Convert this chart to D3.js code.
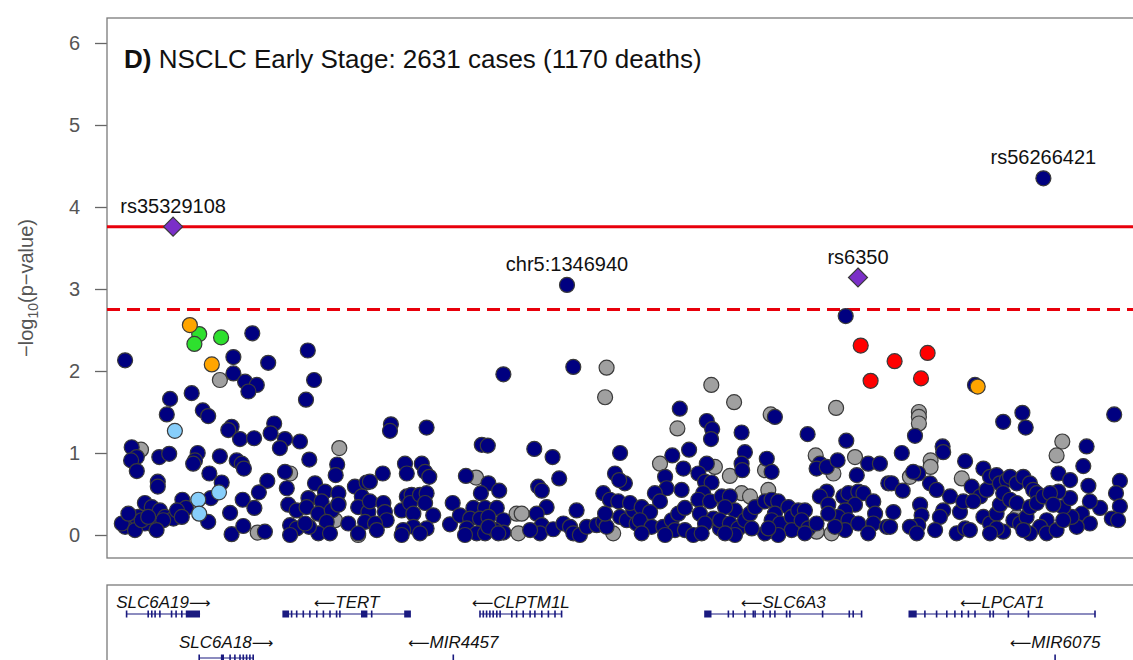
<!DOCTYPE html>
<html>
<head>
<meta charset="utf-8">
<script src="https://cdn.jsdelivr.net/npm/d3@7"></script>
<style>
  html, body { margin: 0; padding: 0; background: #ffffff; }
  svg { display: block; font-family: "Liberation Sans", Arial, Helvetica, sans-serif; }
</style>
</head>
<body>
<svg id="chart" width="1133" height="660"></svg>
<script>
// ---------------- DATA (position in kb on chr5, -log10 p) ----------------
const title = "NSCLC Early Stage: 2631 cases (1170 deaths)";
const panelTag = "D)";
const yTicks = [0, 1, 2, 3, 4, 5, 6];
const thresholdSolid = 3.76;
const thresholdDashed = 2.75;

const graySNPs = [
  [1207.0,1.04],[1233.3,1.89],[1273.1,1.06],[1245.9,0.03],[1256.7,0.75],[1279.4,0.00],[1272.8,0.38],[1271.7,0.18],
  [1362.2,2.04],[1361.7,1.68],[1318.7,0.70],[1332.2,0.26],[1333.9,0.26],[1332.8,0.02],[1364.4,0.02],
  [1397.1,1.83],[1404.7,1.62],[1385.8,1.30],[1416.9,1.47],[1438.7,1.55],[1380.0,0.87],[1398.3,0.83],[1403.3,0.72],
  [1415.0,0.79],[1431.9,0.97],[1437.8,0.75],[1445.0,0.95],[1407.2,0.51],[1410.0,0.47],[1416.1,0.55],[1437.2,0.02],[1432.2,0.04],
  [1466.3,1.50],[1466.3,1.44],[1466.3,1.36],[1470.2,0.91],[1470.2,0.83],[1463.3,0.71],[1480.6,0.69],
  [1514.1,1.14],[1512.2,0.97],[1498.9,0.22],[1501.1,0.18]
];

const navySNPs = [
  [1201.7,2.13],[1244.1,2.46],[1237.8,2.17],[1249.4,2.10],[1237.8,1.97],[1241.7,1.87],[1245.6,1.83],[1242.8,1.75],
  [1262.6,2.25],[1264.7,1.89],[1262.0,1.65],[1216.7,1.66],[1223.9,1.73],[1215.6,1.47],[1227.6,1.52],[1229.4,1.45],
  [1237.2,1.32],[1236.1,1.28],[1240.0,1.17],[1244.7,1.18],[1251.4,1.36],[1250.2,1.24],[1255.0,1.17],[1253.3,1.06],
  [1260.0,1.14],[1263.1,0.92],[1272.4,0.86],[1271.9,0.73],[1203.9,1.07],[1205.6,0.95],[1203.7,0.91],[1205.6,0.78],
  [1213.1,0.95],[1216.4,0.99],[1212.6,0.65],[1212.6,0.59],[1225.9,1.00],[1225.0,0.91],[1224.4,0.87],[1233.3,0.96],
  [1238.9,0.91],[1240.6,0.87],[1241.3,0.81],[1229.8,0.75],[1233.9,0.64],[1230.3,0.45],[1229.4,0.16],[1220.8,0.43],
  [1222.0,0.33],[1249.1,0.66],[1246.3,0.52],[1240.9,0.43],[1244.8,0.33],[1236.7,0.27],[1237.2,0.01],[1241.1,0.11],
  [1248.3,0.04],[1255.0,0.77],[1255.6,0.57],[1256.1,0.37],[1258.9,0.30],[1256.7,0.12],[1258.9,0.08],[1256.7,0.00],
  [1262.8,0.45],[1262.2,0.34],[1265.0,0.63],[1268.3,0.53],[1267.2,0.41],[1266.1,0.26],[1270.6,0.30],[1272.8,0.51],
  [1272.8,0.37],[1268.9,0.16],[1266.1,0.02],[1270.0,0.02],[1263.0,0.10],[1261.7,0.14],[1278.3,0.59],[1282.2,0.64],
  [1280.6,0.47],[1279.4,0.34],[1282.8,0.28],[1281.7,0.16],[1276.1,0.14],[1279.4,0.02],
  [1208.3,0.39],[1210.6,0.34],[1213.3,0.30],[1215.0,0.22],[1217.8,0.20],[1211.7,0.10],[1208.3,0.14],[1206.1,0.22],
  [1203.9,0.18],[1201.7,0.10],[1200.6,0.14],[1205.0,0.06],[1207.2,0.18],[1209.4,0.22],[1202.8,0.26],[1214.4,0.18],
  [1219.0,0.30],[1220.6,0.22],[1212.2,0.06],
  [1327.8,1.96],[1351.1,2.05],[1290.3,1.35],[1290.0,1.27],[1302.2,1.31],[1320.6,1.10],[1322.6,1.09],[1338.1,1.05],
  [1344.2,0.95],[1346.4,0.69],[1366.7,1.00],[1365.0,0.75],[1368.3,0.63],[1366.4,0.67],[1287.6,0.75],[1283.3,0.65],
  [1295.0,0.87],[1295.6,0.75],[1300.6,0.87],[1301.7,0.77],[1303.1,0.71],[1315.3,0.72],[1322.8,0.63],[1326.4,0.54],
  [1320.3,0.51],[1339.4,0.59],[1340.6,0.54],[1342.2,0.34],[1283.3,0.41],[1287.8,0.39],[1288.3,0.28],[1288.9,0.18],
  [1285.0,0.14],[1285.6,0.06],[1293.9,0.30],[1295.6,0.47],[1297.2,0.49],[1296.7,0.39],[1297.8,0.26],[1300.0,0.49],
  [1302.2,0.51],[1301.7,0.39],[1304.4,0.24],[1302.2,0.08],[1297.8,0.10],[1294.4,0.06],[1293.9,0.00],[1300.0,0.02],
  [1310.9,0.39],[1310.0,0.13],[1313.3,0.24],[1317.8,0.33],[1321.7,0.33],[1325.6,0.33],[1316.7,0.20],[1320.0,0.20],
  [1322.8,0.22],[1327.8,0.18],[1315.6,0.08],[1318.9,0.02],[1321.7,0.02],[1325.0,0.06],[1327.8,0.03],[1315.0,0.00],
  [1322.8,0.10],[1326.1,0.02],[1338.9,0.26],[1340.6,0.12],[1340.0,0.02],[1336.7,0.06],[1344.4,0.07],[1347.8,0.14],
  [1350.0,0.10],[1352.2,0.30],[1351.1,0.02],[1353.3,0.00],[1355.6,0.10],[1358.9,0.12],[1361.1,0.16],[1362.2,0.10],
  [1361.7,0.26],[1366.7,0.22],[1368.9,0.18],[1371.1,0.30],[1372.2,0.14],[1361.1,0.51],[1363.3,0.43],[1366.1,0.41],
  [1370.0,0.39],
  [1441.9,2.67],[1386.6,1.54],[1395.6,1.39],[1397.4,1.29],[1397.0,1.17],[1418.3,1.44],[1407.2,1.25],[1429.2,1.23],
  [1442.1,1.15],[1389.7,1.04],[1384.1,0.97],[1387.8,0.81],[1381.7,0.71],[1382.2,0.57],[1387.2,0.55],[1378.3,0.51],
  [1380.0,0.41],[1373.9,0.34],[1376.7,0.28],[1373.3,0.18],[1377.2,0.10],[1381.1,0.10],[1383.9,0.18],[1386.1,0.26],
  [1388.3,0.33],[1385.0,0.06],[1381.7,0.00],[1373.9,0.02],[1388.3,0.06],[1391.1,0.00],[1395.6,0.87],[1392.8,0.75],
  [1395.0,0.65],[1397.2,0.64],[1394.4,0.51],[1392.8,0.43],[1396.7,0.41],[1393.3,0.26],[1397.8,0.20],[1395.0,0.14],
  [1400.0,0.08],[1393.9,0.02],[1408.3,1.01],[1407.2,0.87],[1407.4,0.79],[1415.6,0.93],[1417.2,0.77],[1400.6,0.47],
  [1403.3,0.47],[1405.0,0.30],[1401.7,0.34],[1400.0,0.18],[1403.3,0.14],[1406.1,0.08],[1405.0,0.00],[1401.7,0.02],
  [1408.3,0.18],[1410.0,0.26],[1411.7,0.34],[1415.0,0.41],[1417.2,0.43],[1419.4,0.41],[1418.3,0.26],[1417.2,0.18],
  [1420.0,0.14],[1422.8,0.34],[1423.9,0.22],[1423.9,0.06],[1419.4,0.00],[1415.0,0.02],[1410.6,0.08],[1416.1,0.08],
  [1426.1,0.30],[1428.3,0.30],[1427.2,0.18],[1429.4,0.08],[1428.3,0.02],[1433.3,0.87],[1432.2,0.81],[1435.6,0.83],
  [1439.2,0.91],[1445.6,0.73],[1449.4,0.87],[1453.3,0.87],[1456.1,0.63],[1435.6,0.53],[1433.3,0.47],[1436.1,0.37],
  [1441.1,0.47],[1442.8,0.51],[1446.1,0.53],[1447.8,0.51],[1451.1,0.41],[1451.7,0.26],[1445.0,0.37],[1441.7,0.30],
  [1439.4,0.22],[1442.8,0.18],[1441.7,0.06],[1438.3,0.10],[1432.2,0.14],[1436.1,0.26],[1446.1,0.14],[1451.1,0.14],
  [1455.6,0.10],[1457.8,0.28],[1449.4,0.02],
  [1465.0,1.21],[1494.4,1.38],[1500.8,1.49],[1501.9,1.31],[1531.4,1.47],[1460.6,1.00],[1474.2,1.08],[1474.4,1.01],
  [1466.1,0.75],[1464.4,0.77],[1481.7,0.90],[1487.8,0.81],[1485.0,1.83],[1522.2,1.08],[1521.1,0.84],[1512.8,0.75],
  [1516.7,0.67],[1522.8,0.60],[1533.3,0.66],[1532.0,0.51],[1533.3,0.35],[1530.6,0.20],[1526.7,0.33],[1523.3,0.41],
  [1520.6,0.26],[1523.3,0.14],[1518.9,0.10],[1517.2,0.22],[1514.4,0.34],[1516.7,0.45],[1512.8,0.53],[1457.2,0.63],
  [1460.9,0.54],[1456.7,0.10],[1470.0,0.63],[1472.2,0.55],[1476.7,0.47],[1474.4,0.30],[1473.3,0.22],[1466.7,0.37],
  [1467.2,0.24],[1466.1,0.12],[1463.3,0.10],[1465.6,0.02],[1471.7,0.06],[1478.9,0.02],[1481.7,0.08],[1483.3,0.06],
  [1480.0,0.28],[1481.1,0.41],[1483.9,0.59],[1486.7,0.47],[1488.9,0.55],[1490.0,0.71],[1492.2,0.73],[1493.3,0.63],
  [1495.6,0.67],[1496.7,0.71],[1498.9,0.63],[1501.1,0.71],[1503.3,0.63],[1504.4,0.55],[1505.6,0.51],[1484.4,0.41],
  [1487.8,0.22],[1490.0,0.14],[1492.2,0.26],[1493.3,0.37],[1494.4,0.51],[1496.7,0.43],[1498.9,0.39],[1497.8,0.18],
  [1500.0,0.14],[1502.2,0.22],[1503.3,0.34],[1505.6,0.39],[1507.8,0.47],[1510.0,0.51],[1511.1,0.37],[1508.9,0.18],
  [1506.7,0.10],[1503.3,0.02],[1501.1,0.06],[1494.4,0.04],[1492.2,0.08],[1490.0,0.02],[1508.9,0.02],[1512.2,0.06],
  [1514.4,0.18],[1532.7,0.18],
  [1349.0,3.05],[1507.8,4.35]
];

const lightBlueSNPs = [[1218.3,1.27],[1233.0,0.52],[1226.1,0.43],[1226.4,0.26]];
const greenSNPs     = [[1226.4,2.45],[1224.8,2.33],[1233.7,2.41]];
const orangeSNPs    = [[1223.3,2.56],[1230.6,2.08],[1485.9,1.81]];
const redSNPs       = [[1446.9,2.31],[1450.2,1.88],[1458.2,2.12],[1469.2,2.22],[1467.0,1.91]];
const purpleSNPs    = [[1217.7,3.76],[1446.0,3.14]];

const labelNames = ["rs35329108", "chr5:1346940", "rs6350", "rs56266421"];
const labelPos   = [1217.7, 1349.0, 1446.0, 1507.8];
const labelLogP  = [3.76, 3.05, 3.14, 4.35];

// genes: name, start, end, strand, row, exons [start,end]
const geneNames   = ["SLC6A19", "TERT", "CLPTM1L", "SLC6A18", "MIR4457", "SLC6A3", "LPCAT1", "MIR6075"];
const geneStarts  = [1202.2, 1254.4, 1320.0, 1226.4, 1311.1, 1395.0, 1463.1, 1511.7];
const geneEnds    = [1226.7, 1296.7, 1347.2, 1244.4, 1311.1, 1447.2, 1525.0, 1511.7];
const geneStrands = ["+", "-", "-", "+", "-", "-", "-", "-"];
const geneRows    = [0, 0, 0, 1, 1, 0, 0, 1];
const geneExons = [
  [[1202.2,1202.2],[1209.4,1209.4],[1210.6,1210.6],[1211.7,1211.7],[1213.3,1213.3],[1217.2,1217.2],[1218.7,1218.7],[1220.6,1220.6],[1222.2,1226.4]],
  [[1254.4,1256.1],[1257.2,1257.2],[1258.9,1258.9],[1261.1,1261.1],[1263.3,1263.3],[1265.6,1265.6],[1267.8,1267.8],[1270.0,1270.0],[1272.2,1272.2],[1273.3,1273.3],[1280.6,1282.2],[1283.9,1283.9],[1295.0,1296.7]],
  [[1320.0,1320.0],[1321.1,1321.1],[1322.2,1322.2],[1323.3,1323.3],[1324.4,1324.4],[1325.6,1325.6],[1326.7,1326.7],[1330.6,1330.6],[1332.2,1332.2],[1334.4,1334.4],[1336.7,1336.7],[1338.3,1338.3],[1340.6,1340.6],[1342.8,1342.8],[1345.0,1345.0],[1347.2,1347.2]],
  [[1226.4,1226.4],[1233.9,1234.4],[1236.7,1236.7],[1238.3,1238.3],[1240.0,1240.0],[1241.1,1241.1],[1242.2,1242.2],[1243.3,1243.3],[1244.4,1244.4]],
  [[1311.1,1311.1]],
  [[1395.0,1396.9],[1402.8,1402.8],[1404.4,1404.4],[1408.3,1408.3],[1411.1,1411.1],[1411.7,1411.7],[1414.4,1414.4],[1416.7,1416.7],[1418.3,1418.3],[1422.2,1422.2],[1423.3,1423.3],[1434.2,1434.2],[1443.1,1443.1],[1444.4,1444.4],[1447.2,1447.2]],
  [[1463.1,1465.3],[1468.3,1468.3],[1472.2,1472.2],[1475.6,1475.6],[1478.3,1478.3],[1480.6,1480.6],[1482.8,1482.8],[1485.0,1485.0],[1490.0,1490.0],[1491.1,1491.1],[1496.1,1496.1],[1502.8,1502.8],[1525.0,1525.0]],
  [[1511.7,1511.7]]
];

// ---------------- DRAWING ----------------
const svg = d3.select("#chart");
const W = 1133, H = 660;
const left = 107, plotTop = 18, plotBottom = 558, plotRight = 1140;

const x = d3.scaleLinear().domain([1195.67, 1540]).range([left, plotRight]);
const y = d3.scaleLinear().domain([0, 6]).range([535, 43]);

svg.append("rect").attr("width", W).attr("height", H).attr("fill", "#fff");

const defs = svg.append("defs");
defs.append("clipPath").attr("id", "plotClip").append("rect")
  .attr("x", left).attr("y", plotTop).attr("width", plotRight - left).attr("height", plotBottom - plotTop);
defs.append("clipPath").attr("id", "geneClip").append("rect")
  .attr("x", left).attr("y", 585).attr("width", plotRight - left).attr("height", H - 585);

// y axis
const yAxis = d3.axisLeft(y).tickValues(yTicks).tickSize(12).tickPadding(15).tickFormat(d3.format("d"));
const yg = svg.append("g").attr("transform", `translate(${left},0)`).call(yAxis);
yg.select(".domain").remove();
yg.selectAll("line").attr("stroke", "#666").attr("stroke-width", 1.3);
yg.selectAll("text").attr("font-size", 20).attr("fill", "#555")
  .attr("font-family", "'Liberation Sans', Arial, sans-serif");

// y label
const ylab = svg.append("text")
  .attr("transform", `translate(33,${(plotTop + plotBottom) / 2}) rotate(-90)`)
  .attr("text-anchor", "middle").attr("font-size", 20).attr("fill", "#555");
ylab.append("tspan").text("\u2212log");
ylab.append("tspan").attr("font-size", 14).attr("dy", 5).text("10");
ylab.append("tspan").attr("dy", -5).text("(p\u2212value)");

// plot frame
svg.append("rect").attr("x", left).attr("y", plotTop)
  .attr("width", plotRight - left).attr("height", plotBottom - plotTop)
  .attr("fill", "none").attr("stroke", "#7a7a7a").attr("stroke-width", 1.3);

const plot = svg.append("g").attr("clip-path", "url(#plotClip)");

// threshold lines
plot.append("line").attr("x1", left).attr("x2", plotRight)
  .attr("y1", y(thresholdSolid)).attr("y2", y(thresholdSolid))
  .attr("stroke", "#e8000b").attr("stroke-width", 3);
plot.append("line").attr("x1", left).attr("x2", plotRight)
  .attr("y1", y(thresholdDashed)).attr("y2", y(thresholdDashed))
  .attr("stroke", "#e8000b").attr("stroke-width", 3).attr("stroke-dasharray", "13,7");

// points
function drawCircles(data, fill) {
  plot.append("g").selectAll("circle").data(data).join("circle")
    .attr("cx", d => x(d[0])).attr("cy", d => y(d[1])).attr("r", 7.5)
    .attr("fill", fill).attr("stroke", "#3a3a3a").attr("stroke-width", 1.2);
}
drawCircles(graySNPs, "#a0a0a0");
drawCircles(navySNPs, "#000080");
drawCircles(lightBlueSNPs, "#87cefa");
drawCircles(greenSNPs, "#2ee02e");
drawCircles(orangeSNPs, "#ffa500");
drawCircles(redSNPs, "#ff0000");

plot.append("g").selectAll("path").data(purpleSNPs).join("path")
  .attr("d", d => {
    const cx = x(d[0]), cy = y(d[1]), r = 9.5;
    return `M${cx},${cy - r}L${cx + r},${cy}L${cx},${cy + r}L${cx - r},${cy}Z`;
  })
  .attr("fill", "#7b2fc8").attr("stroke", "#3a3a3a").attr("stroke-width", 1.2);

// SNP labels
svg.append("g").selectAll("text").data(labelNames).join("text")
  .attr("x", (d, i) => x(labelPos[i])).attr("y", (d, i) => y(labelLogP[i]) - 14)
  .attr("text-anchor", "middle").attr("font-size", 20).attr("fill", "#111")
  .text(d => d);

// title
const t = svg.append("text").attr("x", 124).attr("y", 68).attr("font-size", 26).attr("fill", "#111");
t.append("tspan").attr("font-weight", "bold").text(panelTag);
t.append("tspan").text(" " + title);

// gene panel
svg.append("rect").attr("x", left).attr("y", 585).attr("width", plotRight - left).attr("height", 100)
  .attr("fill", "none").attr("stroke", "#7a7a7a").attr("stroke-width", 1.3);

const gp = svg.append("g").attr("clip-path", "url(#geneClip)");
const rowLineY = [614, 658];
const rowTextY = [608, 648];
const geneColor = "#1a1a80";

geneNames.forEach((name, i) => {
  const ly = rowLineY[geneRows[i]];
  const g = gp.append("g");
  if (geneEnds[i] > geneStarts[i]) {
    g.append("line").attr("x1", x(geneStarts[i])).attr("x2", x(geneEnds[i]))
      .attr("y1", ly).attr("y2", ly).attr("stroke", geneColor).attr("stroke-width", 1.2);
  }
  g.selectAll("rect").data(geneExons[i]).join("rect")
    .attr("x", e => x(e[0]) - 0.8)
    .attr("width", e => Math.max(1.6, x(e[1]) - x(e[0]) + 1.6))
    .attr("y", ly - 3.5).attr("height", 7)
    .attr("fill", geneColor);
  const cx = (x(geneStarts[i]) + x(geneEnds[i])) / 2;
  const txt = g.append("text").attr("x", cx).attr("y", rowTextY[geneRows[i]])
    .attr("text-anchor", "middle").attr("font-size", 17).attr("font-style", "italic")
    .attr("fill", "#111");
  if (geneStrands[i] === "+") {
    txt.append("tspan").text(name);
    txt.append("tspan").attr("font-family", "'DejaVu Sans', sans-serif").attr("font-style", "normal")
      .attr("font-size", 15).text("\u27F6");
  } else {
    txt.append("tspan").attr("font-family", "'DejaVu Sans', sans-serif").attr("font-style", "normal")
      .attr("font-size", 15).text("\u27F5");
    txt.append("tspan").text(name);
  }
});
</script>
</body>
</html>
